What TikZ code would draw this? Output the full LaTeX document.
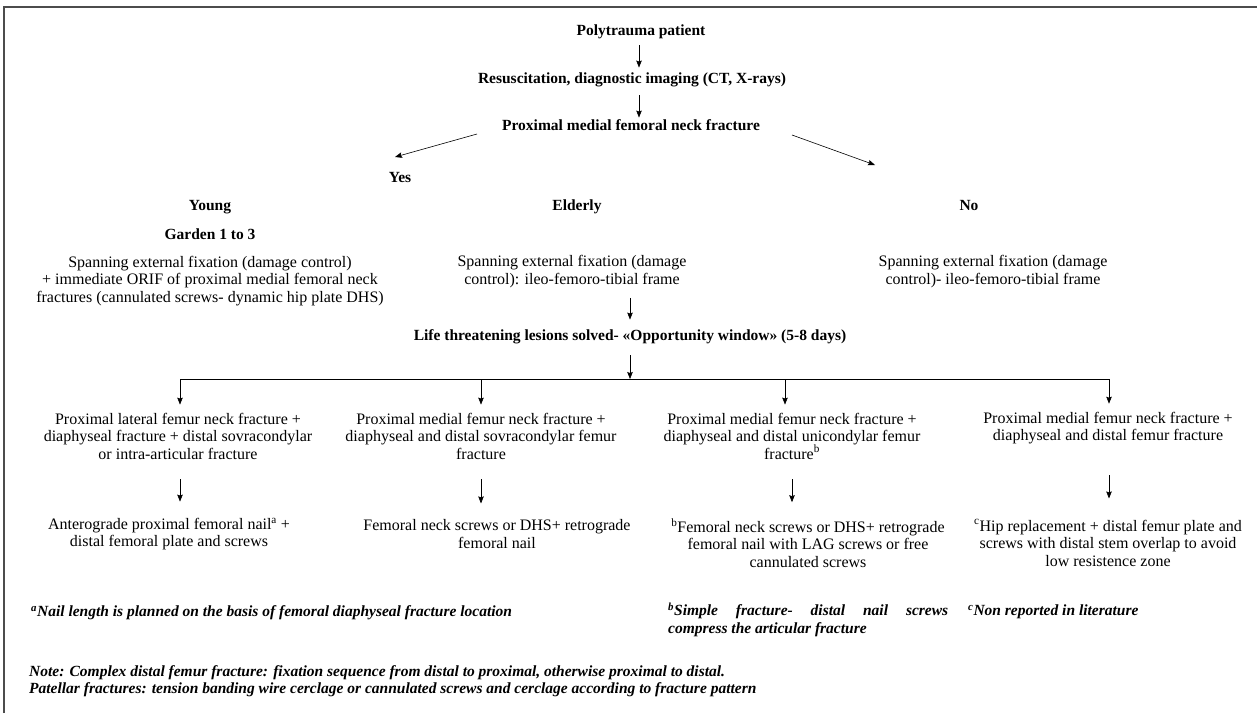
\documentclass[tikz,border=0pt]{standalone}
\usepackage{fontspec}
\setmainfont{Liberation Serif}
\usetikzlibrary{arrows.meta}

\tikzset{
    txt/.style={align=center, inner sep=1pt, font=\fontsize{16}{17.5}\selectfont},
    head/.style={inner sep=1pt, text height=11pt, text depth=3.5pt, font=\fontsize{15.5}{17.5}\selectfont\bfseries},
    foot/.style={align=left, anchor=west, inner sep=0pt, font=\fontsize{15.5}{17.5}\selectfont\bfseries\itshape},
    arr/.style={-{Stealth[length=7pt, width=5.5pt, inset=1pt]}, line width=0.6pt},
}

\begin{document}
\begin{tikzpicture}[x=1pt, y=-1pt]

    \useasboundingbox (0,0) rectangle (1257,713);

    % Frame
    \draw[line width=1.6pt, black!70] (4,713) -- (4,7) -- (1257,7);

    % Patient
    \node[head] (poly) at (641,32) {Polytrauma patient};
    \node[head] (resus) at (632,80) {Resuscitation, diagnostic imaging (CT, X-rays)};
    \node[head] (prox) at (631,127) {Proximal medial femoral neck fracture};

    \draw[arr, shorten <=5pt, shorten >=4pt] (poly.south -| 639,0) -- (639,0 |- resus.north);
    \draw[arr, shorten <=7pt, shorten >=1pt] (639,0 |- resus.south) -- (639,0 |- prox.north);

    % Yes / No
    \coordinate (yesfrom) at (477,134);
    \coordinate (yesto) at (395,157);
    \coordinate (nofrom) at (792,135);
    \coordinate (noto) at (875,165);
    \draw[arr] (yesfrom) -- (yesto);
    \draw[arr] (nofrom) -- (noto);

    \node[head] (yes) at (400,179) {Yes};
    \node[head] (young) at (210,207) {Young};
    \node[head] (eld) at (577,207) {Elderly};
    \node[head] (no) at (969,207) {No};
    \node[head] (garden) at (210,236) {Garden 1 to 3};

    % Spanning fixation
    \node[txt] (yspan) at (210,281) {Spanning external fixation (damage control)\\
        + immediate ORIF of proximal medial femoral neck\\
        fractures (cannulated screws- dynamic hip plate DHS)};
    \node[txt] (espan) at (572,271.5) {Spanning external fixation (damage\\
        control): ileo-femoro-tibial frame};
    \node[txt] (nspan) at (993,271.5) {Spanning external fixation (damage\\
        control)- ileo-femoro-tibial frame};

    \node[head] (life) at (630,337) {Life threatening lesions solved- «Opportunity window» (5-8 days)};

    \draw[arr, shorten <=9pt, shorten >=9pt] (life.north |- espan.south) -- (life.north);

    % Fracture types
    \coordinate (fork) at (630,379);
    \coordinate (k1) at (180,379);
    \coordinate (k2) at (481,379);
    \coordinate (k3) at (785,379);
    \coordinate (k4) at (1109,379);

    \node[txt] (frac1) at (178,436) {Proximal lateral femur neck fracture +\\
        diaphyseal fracture + distal sovracondylar\\
        or intra-articular fracture};
    \node[txt] (frac2) at (481,436) {Proximal medial femur neck fracture +\\
        diaphyseal and distal sovracondylar femur\\
        fracture};
    \node[txt] (frac3) at (792,436) {Proximal medial femur neck fracture +\\
        diaphyseal and distal unicondylar femur\\
        fracture\textsuperscript{b}};
    \node[txt] (frac4) at (1108,428) {Proximal medial femur neck fracture +\\
        diaphyseal and distal femur fracture};

    \draw[arr, shorten <=10pt] (life.south) -- (fork);
    \draw[line width=0.6pt] (k1) -- (k4);
    \draw[arr, shorten >=7pt] (k1) -- (k1 |- frac1.north);
    \draw[arr, shorten >=7pt] (k2) -- (k2 |- frac2.north);
    \draw[arr, shorten >=7pt] (k3) -- (k3 |- frac3.north);
    \draw[arr, shorten >=7pt] (k4) -- (k4 |- frac4.north);

    % Treatment
    \node[txt] (treat1) at (169,534) {Anterograde proximal femoral nail\textsuperscript{a} +\\
        distal femoral plate and screws};
    \node[txt] (treat2) at (497,534) {Femoral neck screws or DHS+ retrograde\\
        femoral nail};
    \node[txt] (treat3) at (808,543) {\textsuperscript{b}Femoral neck screws or DHS+ retrograde\\
        femoral nail with LAG screws or free\\
        cannulated screws};
    \node[txt] (treat4) at (1108,543) {\textsuperscript{c}Hip replacement + distal femur plate and\\
        screws with distal stem overlap to avoid\\
        low resistence zone};

    \draw[arr, shorten <=19pt, shorten >=15pt] (k1 |- frac1.south) -- (k1 |- treat1.north);
    \draw[arr, shorten <=19pt, shorten >=15pt] (k2 |- frac2.south) -- (k2 |- treat2.north);
    \draw[arr, shorten <=19pt, shorten >=15pt] (792,0 |- frac3.south) -- (792,0 |- treat3.north);
    \draw[arr, shorten <=30pt, shorten >=20pt] (k4 |- frac4.south) -- (k4 |- treat4.north);

    % Footnotes
    \node[foot] (fna) at (31,613) {\textsuperscript{a}Nail length is planned on the basis of femoral diaphyseal fracture location};
    \node[foot] (fnb) at (668,620) {\makebox[280pt][s]{\textsuperscript{b}Simple fracture- distal nail screws}\\
        compress the articular fracture};
    \node[foot] (fnc) at (968,612) {\textsuperscript{c}Non reported in literature};
    \node[foot] (note) at (29,681) {Note: Complex distal femur fracture: fixation sequence from distal to proximal, otherwise proximal to distal.\\
        Patellar fractures: tension banding wire cerclage or cannulated screws and cerclage according to fracture pattern};

\end{tikzpicture}
\end{document}
